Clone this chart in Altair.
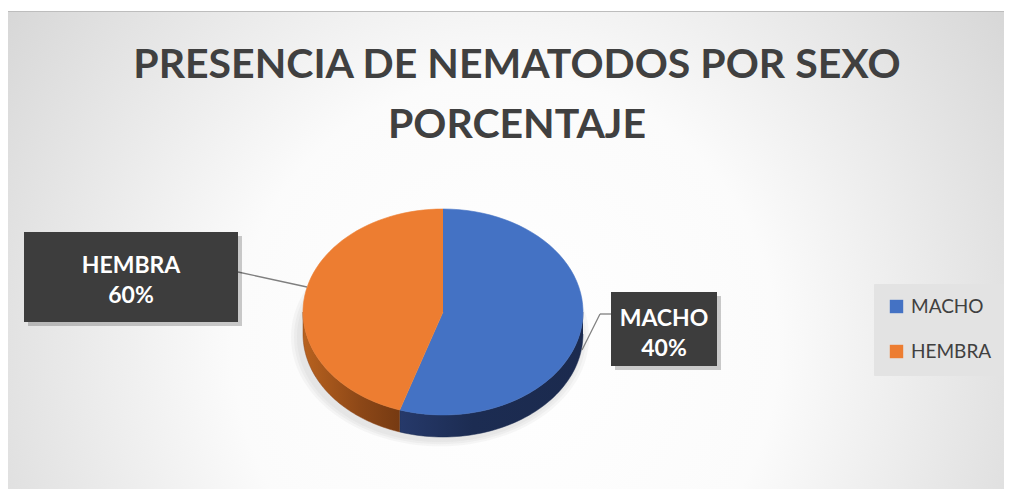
import altair as alt
import pandas as pd

# ---- data ----
categorias = ["MACHO", "HEMBRA"]
valores_grafico = [55, 45]          # share of the pie as drawn
etiquetas = ["MACHO", "HEMBRA"]
etiquetas_pct = ["40%", "60%"]      # data-label texts as shown
colores = ["#4472C4", "#ED7D31"]
titulo = ["PRESENCIA DE NEMATODOS POR SEXO", "PORCENTAJE"]

W, H = 996, 481
CX, CY, RX, RY, D = 435, 304, 140, 103, 22
N = 60
FONT = "Lato, 'Open Sans', sans-serif"

df = pd.DataFrame({"sexo": categorias, "valor": valores_grafico, "orden": list(range(len(categorias)))})
one = pd.DataFrame({"k": [0]})

xs = alt.Scale(domain=[0, W], nice=False, zero=False)
ys = alt.Scale(domain=[0, H], nice=False, zero=False, reverse=True)

def base_pie():
    return (
        alt.Chart(df)
        .transform_joinaggregate(total="sum(valor)")
        .transform_window(cum="sum(valor)", sort=[alt.SortField("orden")], frame=[None, 0])
        .transform_calculate(
            a0="2*PI*(datum.cum - datum.valor)/datum.total",
            a1="2*PI*datum.cum/datum.total",
        )
    )

# background gradient
bg = alt.Chart(one).mark_rect(
    fill=alt.Gradient(
        gradient="radial",
        stops=[
            alt.GradientStop(color="#ffffff", offset=0),
            alt.GradientStop(color="#fbfbfb", offset=0.35),
            alt.GradientStop(color="#c4c4c4", offset=1),
        ],
        x1=0.5, y1=0.6, r1=0, x2=0.5, y2=0.6, r2=0.78,
    )
).encode(x=alt.value(0), x2=alt.value(W), y=alt.value(3), y2=alt.value(H))

border = alt.Chart(one).mark_rule(color="#bdbdbd", strokeWidth=1).encode(
    x=alt.value(0), x2=alt.value(W), y=alt.value(3.5)
)

# soft shadow under pie
def shadow_layer(grow, op):
    return (
        alt.Chart(one)
        .transform_calculate(idx="sequence(0, 121)")
        .transform_flatten(["idx"])
        .transform_calculate(
            t="2*PI*datum.idx/120",
            px=f"{CX-3}+{RX+grow}*sin(datum.t)",
            py=f"{CY+D+3}-{RY+grow*0.7}*cos(datum.t)",
        )
        .mark_line(fill="#8a8a8a", strokeWidth=0, fillOpacity=op)
        .encode(x=alt.X("px:Q", scale=xs, axis=None), y=alt.Y("py:Q", scale=ys, axis=None), order="idx:Q")
    )

shadows = [shadow_layer(g, 0.07) for g in (9, 6, 3)]

# side faces
def side(cat, grad, stroke):
    return (
        base_pie()
        .transform_filter(alt.datum.sexo == cat)
        .transform_calculate(s0="max(datum.a0, PI/2)", s1="min(datum.a1, 3*PI/2)")
        .transform_filter("datum.s1 > datum.s0")
        .transform_calculate(idx=f"sequence(0, {2*N+2})")
        .transform_flatten(["idx"])
        .transform_calculate(j=f"datum.idx <= {N} ? datum.idx : {2*N+1} - datum.idx")
        .transform_calculate(t=f"datum.s0 + datum.j/{N}*(datum.s1-datum.s0)")
        .transform_calculate(
            px=f"{CX}+{RX}*sin(datum.t)",
            py=f"{CY}-{RY}*cos(datum.t) + (datum.idx <= {N} ? 0 : {D})",
        )
        .mark_line(fill=grad, stroke=stroke, strokeWidth=0.5)
        .encode(x=alt.X("px:Q", scale=xs, axis=None), y=alt.Y("py:Q", scale=ys, axis=None), order="idx:Q")
    )

side_m = side("MACHO", alt.Gradient(
    gradient="linear", x1=0, y1=0, x2=1, y2=0,
    stops=[alt.GradientStop(color="#26396a", offset=0), alt.GradientStop(color="#1c2c52", offset=0.4),
           alt.GradientStop(color="#1b2a4e", offset=1)]), "#1b2b50")
side_h = side("HEMBRA", alt.Gradient(
    gradient="linear", x1=0, y1=0, x2=1, y2=0,
    stops=[alt.GradientStop(color="#b8621f", offset=0), alt.GradientStop(color="#8c4717", offset=0.6),
           alt.GradientStop(color="#763a12", offset=1)]), "#8a4418")

# top faces
color_scale = alt.Scale(domain=categorias, range=colores)
top = (
    base_pie()
    .transform_calculate(idx=f"sequence(0, {N+2})")
    .transform_flatten(["idx"])
    .transform_calculate(t=f"datum.a0 + (datum.idx-1)/{N}*(datum.a1-datum.a0)")
    .transform_calculate(
        px=f"datum.idx == 0 ? {CX} : {CX}+{RX}*sin(datum.t)",
        py=f"datum.idx == 0 ? {CY} : {CY}-{RY}*cos(datum.t)",
    )
    .mark_line(strokeWidth=0.6)
    .encode(
        x=alt.X("px:Q", scale=xs, axis=None),
        y=alt.Y("py:Q", scale=ys, axis=None),
        order="idx:Q",
        fill=alt.Fill("sexo:N", scale=color_scale, sort=categorias,
                      legend=alt.Legend(title=None, orient="none", legendX=866, legendY=276,
                                        symbolType="square", symbolSize=180, symbolStrokeWidth=0,
                                        labelFontSize=19, labelColor="#404040", labelFont=FONT,
                                        rowPadding=25, padding=13, fillColor="#e3e3e3", strokeColor="#e3e3e3",
                                        labelOffset=5, symbolOffset=0)),
        stroke=alt.Stroke("sexo:N", scale=color_scale, sort=categorias, legend=None),
    )
)

# leader lines
lead_h = alt.Chart(one).mark_rule(color="#7f7f7f", strokeWidth=1.3).encode(
    x=alt.value(230), x2=alt.value(299), y=alt.value(264), y2=alt.value(279))
lead_m1 = alt.Chart(one).mark_rule(color="#7f7f7f", strokeWidth=1.3).encode(
    x=alt.value(574), x2=alt.value(592), y=alt.value(342), y2=alt.value(306))
lead_m2 = alt.Chart(one).mark_rule(color="#7f7f7f", strokeWidth=1.3).encode(
    x=alt.value(592), x2=alt.value(603), y=alt.value(306), y2=alt.value(306))

def box(x0, x1, y0, y1):
    sh = alt.Chart(one).mark_rect(color="#000000", opacity=0.2).encode(
        x=alt.value(x0 + 4), x2=alt.value(x1 + 4), y=alt.value(y0 + 4), y2=alt.value(y1 + 4))
    b = alt.Chart(one).mark_rect(color="#3d3d3d").encode(
        x=alt.value(x0), x2=alt.value(x1), y=alt.value(y0), y2=alt.value(y1))
    return sh + b

box_h = box(16, 230, 224, 314)
box_m = box(603, 709, 284, 358)

def label(i, xc, y1, y2):
    t1 = alt.Chart(one).mark_text(font=FONT, fontWeight="bold", fontSize=23,
                                  color="#ffffff", align="center", baseline="alphabetic").encode(
        x=alt.value(xc), y=alt.value(y1), text=alt.value(etiquetas[i]))
    t2 = alt.Chart(one).mark_text(font=FONT, fontWeight="bold", fontSize=23,
                                  color="#ffffff", align="center", baseline="alphabetic").encode(
        x=alt.value(xc), y=alt.value(y2), text=alt.value(etiquetas_pct[i]))
    return t1 + t2

lab_h = label(1, 123, 265, 295)
lab_m = label(0, 656, 318, 348)

def title_line(i, y):
    return alt.Chart(one).mark_text(font=FONT, fontWeight="bold", fontSize=41,
                                    color="#404040", align="center", baseline="alphabetic").encode(
        x=alt.value(509), y=alt.value(y), text=alt.value(titulo[i]))

chart = alt.layer(
    bg, border, *shadows, side_m, side_h, top, lead_h, lead_m1, lead_m2,
    box_h, box_m, lab_h, lab_m, title_line(0, 70), title_line(1, 130)
).properties(
    width=W, height=H, padding=0, autosize=alt.AutoSizeParams(type="none"), background="#ffffff"
).configure_view(strokeWidth=0)

chart.save("out.html", embed_options={"renderer": "svg", "actions": False})
